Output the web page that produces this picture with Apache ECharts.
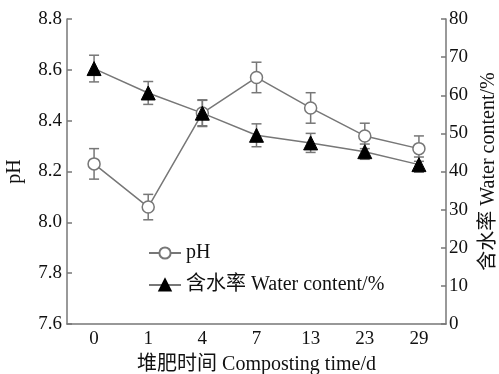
<!DOCTYPE html>
<html>
<head>
<meta charset="utf-8">
<script src="https://cdn.jsdelivr.net/npm/echarts@6/dist/echarts.min.js"></script>
<style>
  html, body { margin: 0; padding: 0; background: #fff; }
  #chart { width: 499px; height: 374px; }
</style>
</head>
<body>
<div id="chart"></div>
<script>
// 堆肥时间 (d)
var days = ['0', '1', '4', '7', '13', '23', '29'];

// pH 均值与标准差
var phMean = [8.23, 8.06, 8.43, 8.57, 8.45, 8.34, 8.29];
var phErr = [0.06, 0.05, 0.05, 0.06, 0.06, 0.05, 0.05];

// 含水率 (%) 均值与标准差
var waterMean = [67.0, 60.6, 55.3, 49.5, 47.5, 45.2, 41.8];
var waterErr = [3.5, 3.0, 3.5, 3.0, 2.5, 2.0, 2.0];

var font = '"Liberation Serif", "Noto Sans CJK SC", serif';
var gray = '#777';

function errData(mean, err) {
    return mean.map(function (m, i) { return [i, m - err[i], m + err[i]]; });
}

// 误差线
function renderErr(params, api) {
    var x = api.value(0);
    var lo = api.coord([x, api.value(1)]);
    var hi = api.coord([x, api.value(2)]);
    var half = 5;
    var style = { stroke: gray, lineWidth: 1.5 };
    return {
        type: 'group',
        children: [
            { type: 'line', shape: { x1: lo[0], y1: lo[1], x2: hi[0], y2: hi[1] }, style: style },
            { type: 'line', shape: { x1: lo[0] - half, y1: lo[1], x2: lo[0] + half, y2: lo[1] }, style: style },
            { type: 'line', shape: { x1: hi[0] - half, y1: hi[1], x2: hi[0] + half, y2: hi[1] }, style: style }
        ]
    };
}

var chart = echarts.init(document.getElementById('chart'));
chart.setOption({
    animation: false,
    textStyle: { fontFamily: font, color: '#111' },
    grid: { left: 67, right: 53, top: 19, bottom: 50, containLabel: false, outerBoundsMode: 'none' },
    legend: {
        data: ['pH', '含水率 Water content/%'],
        orient: 'vertical',
        left: 143,
        top: 238,
        itemWidth: 32,
        itemHeight: 14,
        itemGap: 12,
        textStyle: { fontFamily: font, fontSize: 20, color: '#111' }
    },
    xAxis: {
        type: 'category',
        data: days,
        name: '堆肥时间 Composting time/d',
        nameLocation: 'middle',
        nameGap: 31,
        nameTextStyle: { fontFamily: font, fontSize: 20, color: '#111' },
        axisLine: { lineStyle: { color: gray, width: 1.5 } },
        axisTick: { inside: true, alignWithLabel: true, length: 5, lineStyle: { color: gray, width: 1.5 } },
        axisLabel: { fontFamily: font, fontSize: 19, color: '#111', margin: 6 },
        splitLine: { show: false }
    },
    yAxis: [{
        type: 'value',
        min: 7.6,
        max: 8.8,
        interval: 0.2,
        name: 'pH',
        nameLocation: 'middle',
        nameRotate: 90,
        nameGap: 42,
        nameTextStyle: { fontFamily: font, fontSize: 20, color: '#111' },
        axisLine: { show: true, lineStyle: { color: gray, width: 1.5 } },
        axisTick: { show: true, inside: true, length: 5, lineStyle: { color: gray, width: 1.5 } },
        axisLabel: {
            fontFamily: font, fontSize: 19, color: '#111', margin: 5,
            formatter: function (v) { return v.toFixed(1); }
        },
        splitLine: { show: false }
    }, {
        type: 'value',
        position: 'right',
        min: 0,
        max: 80,
        interval: 10,
        name: '含水率 Water content/%',
        nameLocation: 'middle',
        nameRotate: 90,
        nameGap: 31,
        nameTextStyle: { fontFamily: font, fontSize: 20, color: '#111' },
        axisLine: { show: true, lineStyle: { color: gray, width: 1.5 } },
        axisTick: { show: true, inside: true, length: 5, lineStyle: { color: gray, width: 1.5 } },
        axisLabel: { fontFamily: font, fontSize: 19, color: '#111', margin: 3 },
        splitLine: { show: false }
    }],
    series: [{
        name: 'pH误差',
        type: 'custom',
        renderItem: renderErr,
        data: errData(phMean, phErr),
        encode: { x: 0, y: [1, 2] },
        z: 1
    }, {
        name: '含水率误差',
        type: 'custom',
        yAxisIndex: 1,
        renderItem: renderErr,
        data: errData(waterMean, waterErr),
        encode: { x: 0, y: [1, 2] },
        z: 1
    }, {
        name: 'pH',
        type: 'line',
        data: phMean,
        symbol: 'circle',
        symbolSize: 12,
        lineStyle: { color: gray, width: 1.5 },
        itemStyle: { color: '#fff', borderColor: gray, borderWidth: 1.5 },
        z: 3
    }, {
        name: '含水率 Water content/%',
        type: 'line',
        yAxisIndex: 1,
        data: waterMean,
        symbol: 'triangle',
        symbolSize: 14,
        lineStyle: { color: gray, width: 1.5 },
        itemStyle: { color: '#000', borderColor: '#000', borderWidth: 1 },
        z: 3
    }]
});
</script>
</body>
</html>
